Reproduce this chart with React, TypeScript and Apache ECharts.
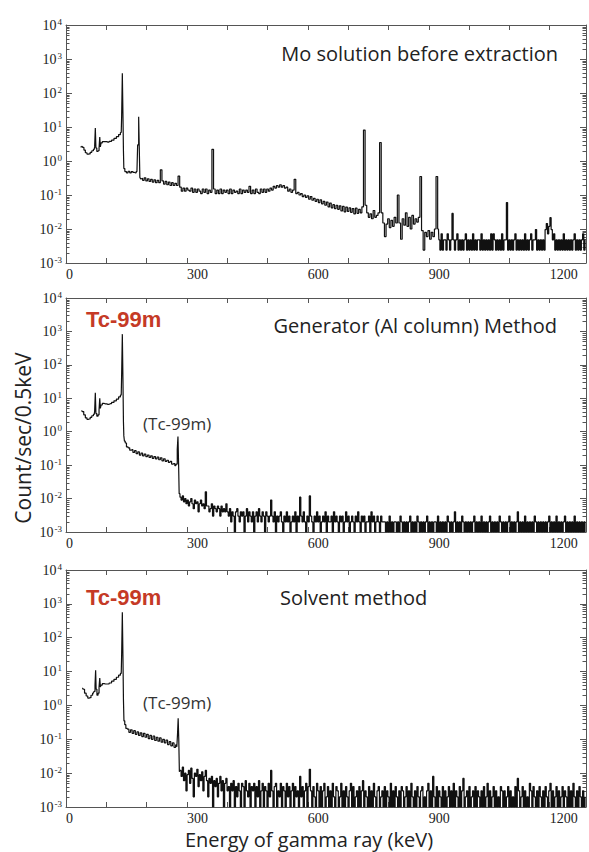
import React, { useEffect, useRef } from 'react';
import * as echarts from 'echarts';

// ---------- axis ticks ----------
const xLabelValues = [0, 300, 600, 900, 1200];
const xMin = 0;
const xMax = 1290;
const xTickStep = 100;
const yMin = 0.001;
const yMax = 10000;
const yMinorMantissas = [2, 3, 4, 5, 6, 7, 8, 9];
const yDecades = [-3, -2, -1, 0, 1, 2, 3];

// ---------- panel titles ----------
const panelTitles = ['Mo solution before extraction', 'Generator (Al column) Method', 'Solvent method'];

// ---------- Panel 1: Mo solution before extraction ----------
const moHead: [number, number][] = [
  [36, 2.6], [40, 2.7], [43, 2.5], [46, 2.1], [50, 1.75], [54, 1.6], [58, 1.62], [62, 1.8], [66, 2.0], [70, 2.2],
  [72, 2.6], [73.5, 9.4], [75, 2.4], [78, 1.9], [81, 2.0], [83, 2.4], [84.5, 5.1], [86, 2.6], [88, 3.4], [92, 3.7],
  [98, 3.7], [104, 3.6], [110, 3.8], [116, 4.1], [122, 4.6], [128, 5.2], [133, 6.0], [137, 6.9], [139, 20], [140.5, 380],
  [142, 25], [143, 2.0], [144, 0.6], [148, 0.49], [152, 0.45], [156, 0.5], [160, 0.45], [164, 0.49], [168, 0.46], [172, 0.45],
  [176, 0.49], [179.5, 3], [181, 20], [182.5, 2.5], [184, 0.33], [186, 0.3],
];
const moMidStart = 188;
const moMidStep = 4;
const moMid = [
  0.31, 0.27, 0.32, 0.26, 0.30, 0.25, 0.29, 0.24, 0.28, 0.23,
  0.27, 0.23, 0.55, 0.26, 0.21, 0.25, 0.20, 0.24, 0.19, 0.23,
  0.19, 0.22, 0.19, 0.36, 0.17, 0.13, 0.16, 0.13, 0.16, 0.14,
  0.13, 0.16, 0.12, 0.15, 0.12, 0.15, 0.13, 0.11, 0.15, 0.12,
  0.15, 0.11, 0.14, 0.12, 2.2, 0.15, 0.11, 0.14, 0.11, 0.15,
  0.11, 0.14, 0.12, 0.14, 0.11, 0.15, 0.11, 0.14, 0.12, 0.13,
  0.11, 0.15, 0.11, 0.14, 0.12, 0.14, 0.12, 0.18, 0.11, 0.14,
  0.11, 0.15, 0.12, 0.11, 0.15, 0.12, 0.15, 0.12, 0.15, 0.13,
  0.16, 0.14, 0.18, 0.16, 0.19, 0.17, 0.20, 0.17, 0.19, 0.16,
  0.17, 0.13, 0.15, 0.12, 0.14, 0.29, 0.11, 0.12, 0.10, 0.11,
  0.09, 0.10, 0.085, 0.095, 0.075, 0.09, 0.07, 0.08, 0.065, 0.075,
  0.06, 0.072, 0.055, 0.065, 0.05, 0.062, 0.045, 0.058, 0.042, 0.052,
  0.04, 0.05, 0.038, 0.048, 0.034, 0.046, 0.032, 0.044, 0.033, 0.042,
  0.031, 0.04, 0.028, 0.041, 0.029, 0.038, 0.03, 0.045, 8.1, 0.05,
  0.03, 0.022, 0.028, 0.02, 0.035, 0.022, 0.025, 0.03, 3.5, 0.03,
  0.015, 0.006, 0.014, 0.02, 0.011, 0.018, 0.012, 0.022, 0.015, 0.1,
  0.015, 0.005, 0.02, 0.013, 0.03, 0.012, 0.022, 0.01, 0.025, 0.014,
  0.02, 0.016, 0.022, 0.35, 0.009, 0.0024, 0.008, 0.006, 0.009, 0.005,
  0.008, 0.006, 0.01, 0.35, 0.01,
];
const moTailStart = 926;
const moTailStep = 3;
const moTailUnit = 0.0024;
const moTailCounts = [
  2, 1, 3, 1, 2, 2, 1, 3, 2, 1,
  2, 12, 2, 1, 2, 3, 1, 2, 1, 2,
  1, 2, 3, 1, 2, 1, 2, 1, 3, 1,
  2, 1, 2, 2, 1, 3, 1, 2, 1, 2,
  1, 2, 1, 3, 1, 3, 2, 1, 2, 1,
  2, 1, 3, 1, 2, 2, 25, 1, 2, 1,
  2, 1, 2, 3, 1, 2, 1, 2, 1, 2,
  1, 3, 1, 2, 1, 2, 3, 1, 2, 2,
  4, 1, 2, 1, 2, 1, 2, 1, 4, 6,
  3, 5, 9, 4, 2, 3, 1, 2, 1, 2,
  1, 2, 1, 3, 1, 2, 1, 2, 1, 2,
  1, 2, 3, 1, 2, 1, 2, 1, 2, 3,
  1, 2,
];

// ---------- Panel 2: Generator (Al column) ----------
const genHead: [number, number][] = [
  [38, 4.2], [42, 4.0], [46, 3.2], [50, 2.6], [54, 2.35], [58, 2.4], [62, 2.7], [66, 3.0], [70, 3.3], [72, 4.0],
  [73.5, 14.6], [75, 3.5], [78, 2.9], [81, 3.2], [83, 4.5], [84.5, 10], [86, 5.0], [88, 6.3], [92, 7.0], [98, 6.8],
  [104, 6.6], [110, 6.9], [116, 7.5], [122, 8.4], [128, 9.5], [133, 11], [137, 12.5], [139, 50], [140.5, 830], [142, 40],
  [143, 2.0], [144, 0.75], [146, 0.52], [148, 0.46], [152, 0.35], [156, 0.33], [160, 0.28], [164, 0.29], [168, 0.24], [172, 0.27],
  [176, 0.22], [180, 0.25], [184, 0.2], [188, 0.23], [192, 0.19], [196, 0.215], [200, 0.18], [204, 0.2], [208, 0.17], [212, 0.19],
  [216, 0.16], [220, 0.18], [224, 0.155], [228, 0.175], [232, 0.145], [236, 0.165], [240, 0.135], [244, 0.155], [248, 0.13], [252, 0.14],
  [256, 0.12], [260, 0.13], [264, 0.108], [268, 0.112], [272, 0.096], [275, 0.108], [277, 0.3], [278.5, 0.72], [280, 0.12], [281.5, 0.014],
];
const genTailStart = 284;
const genTailStep = 3;
const genTailUnit = 0.001;
const genTailCounts = [
  11, 9, 12, 8, 10, 7,
  9, 6, 8, 10, 7, 5, 9, 7, 8, 4, 7, 9, 6,
  7, 5, 16, 6,
  6, 4, 5, 7, 3, 6, 5, 4, 6, 5, 3, 6, 4, 5, 4, 7,
  4, 3, 5, 2, 4, 3, 1, 4, 5, 3, 2, 4, 3, 4, 1, 3, 5, 2, 4, 3, 2, 4, 1, 3, 4, 2, 5, 3, 2, 4, 3, 1, 4, 3, 2, 3,
  9,
  3, 2, 4, 1, 3, 2, 3, 4, 2, 1, 3, 2, 4, 2, 3, 1, 2, 3, 2, 4, 1, 3, 2,
  11,
  3, 2, 4, 2, 1, 3, 2,
  12,
  3, 2, 1, 3, 2, 4, 2, 3, 1, 2,
  3, 2, 4, 1, 3, 2, 2, 3, 1, 4,
  2, 3, 2, 1, 3, 2, 3, 1, 2, 4,
  2, 3, 1, 2, 3, 2, 1, 3, 2, 4,
  2, 1, 3, 2, 3, 1, 2, 2, 3, 1,
  4, 2, 3, 1, 2, 3, 2, 1, 3, 2,
  2,
  2, 1, 2, 1, 3, 1, 2, 1, 2, 2,
  1, 2, 1, 3, 2, 1, 2, 1, 2, 1,
  2, 3, 1, 2, 1, 2, 1, 3, 2, 1,
  2, 1, 2, 1, 2, 3, 1, 2, 1, 2,
  1, 2, 2, 1, 3, 1, 2, 1, 2, 1,
  2, 1, 3, 2, 1, 2, 1, 2, 4, 1,
  2, 1, 2, 1, 3, 2, 1, 2, 1, 2,
  1, 2, 1, 2, 3, 1, 2, 1, 2, 1,
  3, 1, 2, 1, 2, 1, 2, 3, 1, 2,
  1, 2, 1, 2, 1, 3, 2, 1, 2, 1,
  2, 1, 2, 3, 1, 2, 1, 2, 1, 2,
  4, 1, 2, 1, 2, 1, 3, 1, 2, 1,
  2, 1, 2, 1, 3, 2, 1, 2, 1, 2,
  1, 2, 1, 2, 1, 2, 3, 1, 2, 1,
  2, 1, 3, 1, 2, 1, 2, 1, 2, 3,
  1, 2, 1, 2, 1, 2, 1, 3, 1, 2,
  1, 2, 1, 2, 1, 2, 1,
];

// ---------- Panel 3: Solvent method ----------
const solHead: [number, number][] = [
  [40, 3.2], [44, 3.0], [48, 2.3], [52, 1.9], [56, 1.65], [60, 1.7], [64, 2.0], [68, 2.3], [71, 2.6], [73, 4],
  [74, 11], [75.5, 3], [78, 2.0], [81, 2.3], [83, 3.5], [84.5, 6.4], [86, 3.5], [88, 4.0], [92, 4.4], [98, 4.3],
  [104, 4.3], [110, 4.6], [116, 5.2], [122, 5.9], [128, 6.8], [133, 7.8], [137, 8.8], [139, 30], [140.5, 560], [142, 30],
  [143, 1.5], [144.5, 0.35], [147, 0.27], [150, 0.21], [154, 0.2], [158, 0.16], [162, 0.19], [166, 0.15], [170, 0.18], [174, 0.14],
  [178, 0.165], [182, 0.13], [186, 0.155], [190, 0.12], [194, 0.15], [198, 0.115], [202, 0.14], [206, 0.105], [210, 0.13], [214, 0.1],
  [218, 0.125], [222, 0.092], [226, 0.115], [230, 0.088], [234, 0.11], [238, 0.082], [242, 0.1], [246, 0.078], [250, 0.095], [254, 0.07],
  [258, 0.085], [262, 0.064], [266, 0.078], [270, 0.058], [274, 0.068], [276, 0.06], [277.5, 0.15], [279, 0.42], [280.5, 0.1], [282, 0.011],
];
const solTailStart = 284;
const solTailStep = 3;
const solTailUnit = 0.001;
const solTailCounts = [
  12, 8, 15, 6, 10, 3,
  9, 12, 5, 14, 7, 2, 10, 8, 13, 4, 9, 6, 11, 3, 8, 12,
  6, 2, 7, 5, 8, 1, 6, 4, 7, 2, 5, 8, 3, 6, 1, 5, 7, 3,
  4, 1, 5, 3, 6, 1, 4, 2, 5, 3, 1, 5, 4, 1, 6, 3, 2, 5, 1, 4, 3, 5, 1, 4, 2, 6, 1, 3, 5, 1, 4, 3, 1, 5, 2,
  12,
  3, 1, 4, 5, 1, 3, 2, 5, 1, 4, 3, 1, 5, 2, 4, 1, 3, 5, 1, 4, 2, 3, 1, 8, 2, 4, 1, 3, 5, 1, 4,
  13,
  3, 1, 4, 2, 1, 5, 3, 1, 4, 1,
  3, 5, 1, 2, 4, 1, 3, 1, 5, 2,
  1, 4, 3, 1, 2, 5, 1, 3, 1, 4,
  2, 1, 3, 5, 1, 4, 1, 2, 3, 1,
  4, 1, 3, 6, 1, 3, 2, 1, 4, 1,
  3, 1, 5, 2, 1, 3, 4, 1, 2, 3,
  1, 4, 1, 3, 2, 1, 5, 1, 3, 1,
  4, 2, 1, 3, 1, 4, 3, 1, 2, 4,
  1, 3, 1, 5, 2, 1, 3, 1, 4, 2,
  1, 3, 4, 1, 2, 1, 3, 5, 1, 3,
  1, 8, 2, 1, 4, 1, 3, 2, 1, 4,
  1, 3, 1, 2, 4, 1, 3, 1, 5, 1,
  3, 2, 1, 4, 1, 3, 7, 1, 2, 3,
  1, 4, 1, 2, 3, 1, 4, 1, 3, 2,
  1, 3, 1, 4, 1, 2, 5, 1, 3, 1,
  2, 4, 1, 3, 1, 2, 1, 4, 3, 1,
  3, 1, 2, 4, 1, 3, 1, 2, 1, 4,
  1, 7, 3, 1, 2, 4, 1, 3, 1, 2,
  1, 5, 3, 1, 4, 2, 1, 3, 1, 4,
  2, 1, 3, 1, 4, 2, 1, 3, 5, 1,
  3, 1, 2, 4, 1, 3, 1, 2, 4, 1,
  3, 2, 1, 4, 1, 3, 1, 5, 2, 1,
  3, 1, 4, 2, 1, 3, 1, 2,
];

function buildSpectrum(
  head: [number, number][],
  mid: { start: number; step: number; values: number[] } | null,
  tail: { start: number; step: number; unit: number; counts: number[] },
): [number, number][] {
  const out: [number, number][] = head.map((p) => [p[0], p[1]]);
  if (mid) mid.values.forEach((v, i) => out.push([mid.start + i * mid.step, v]));
  tail.counts.forEach((c, i) => out.push([tail.start + i * tail.step, c * tail.unit]));
  return out;
}

const spectra = [
  buildSpectrum(moHead, { start: moMidStart, step: moMidStep, values: moMid },
    { start: moTailStart, step: moTailStep, unit: moTailUnit, counts: moTailCounts }),
  buildSpectrum(genHead, null, { start: genTailStart, step: genTailStep, unit: genTailUnit, counts: genTailCounts }),
  buildSpectrum(solHead, null, { start: solTailStart, step: solTailStep, unit: solTailUnit, counts: solTailCounts }),
];

const yMinorValues: number[] = [];
yDecades.forEach((e) => yMinorMantissas.forEach((m) => yMinorValues.push(Number((m * Math.pow(10, e)).toPrecision(3)))));

const FRAME = '#555555';
const LINE = '#111111';
const SERIF = '"Liberation Serif", "Times New Roman", serif';
const SANS = '"Open Sans", "Noto Sans", sans-serif';
const RED = '#c53a26';

const grids = [
  { left: 66, right: 2, top: 25, height: 238 },
  { left: 66, right: 2, top: 298, height: 234 },
  { left: 66, right: 2, top: 570, height: 237 },
];

export default function App() {
  const ref = useRef<HTMLDivElement>(null);
  useEffect(() => {
    if (!ref.current) return;
    const chart = echarts.init(ref.current, undefined, { renderer: 'svg' });
    const xAxes: any[] = [];
    const yAxes: any[] = [];
    const series: any[] = [];
    grids.forEach((_, g) => {
      ['bottom', 'top'].forEach((pos) => {
        xAxes.push({
          type: 'value', gridIndex: g, position: pos, min: xMin, max: xMax, interval: xTickStep,
          axisLine: { show: true, onZero: false, lineStyle: { color: FRAME, width: 1 } },
          axisTick: { show: true, inside: true, length: 5, lineStyle: { color: FRAME } },
          axisLabel: pos === 'bottom'
            ? {
              show: true, align: 'left', margin: 4, fontFamily: SERIF, fontSize: 14, color: '#222',
              formatter: (v: number) => (xLabelValues.indexOf(v) >= 0 ? String(v) : ''),
            }
            : { show: false },
          splitLine: { show: false },
        });
      });
      ['left', 'right'].forEach((pos) => {
        yAxes.push({
          type: 'log', logBase: 10, gridIndex: g, position: pos, min: yMin, max: yMax, splitNumber: 7,
          axisLine: { show: true, onZero: false, lineStyle: { color: FRAME, width: 1 } },
          axisTick: { show: true, inside: true, length: 6, lineStyle: { color: FRAME } },
          axisLabel: pos === 'left'
            ? {
              show: true, margin: 4,
              formatter: (v: number) => `{b|10}{s|${Math.round(Math.log10(v))}}`,
              rich: {
                b: { fontFamily: SERIF, fontSize: 14, color: '#222', lineHeight: 16 },
                s: { fontFamily: SERIF, fontSize: 9, color: '#222', verticalAlign: 'top', lineHeight: 16, padding: [0, 0, 0, 1] },
              },
            }
            : { show: false },
          splitLine: { show: false },
        });
      });
      series.push({
        type: 'line', xAxisIndex: 2 * g, yAxisIndex: 2 * g, data: spectra[g], step: 'middle',
        showSymbol: false, symbol: 'none', lineStyle: { color: LINE, width: 1.2 }, silent: true,
      });
      series.push({
        type: 'custom', xAxisIndex: 2 * g, yAxisIndex: 2 * g, silent: true, clip: false,
        data: yMinorValues.map((v) => [xMin, v]),
        renderItem: (params: any, api: any) => {
          const p = api.coord([xMin, api.value(1)]);
          const cs = params.coordSys;
          const y = Math.round(p[1]) + 0.5;
          return {
            type: 'group',
            children: [
              { type: 'line', shape: { x1: cs.x, y1: y, x2: cs.x + 3.5, y2: y }, style: { stroke: FRAME, lineWidth: 1 } },
              { type: 'line', shape: { x1: cs.x + cs.width - 3.5, y1: y, x2: cs.x + cs.width, y2: y }, style: { stroke: FRAME, lineWidth: 1 } },
            ],
          };
        },
      });
    });

    const graphic: any[] = [
      { type: 'text', x: 558, y: 53, style: { text: panelTitles[0], fontFamily: SANS, fontSize: 20, fill: '#222', align: 'right', verticalAlign: 'middle' } },
      { type: 'text', x: 557, y: 325, style: { text: panelTitles[1], fontFamily: SANS, fontSize: 20, fill: '#222', align: 'right', verticalAlign: 'middle' } },
      { type: 'text', x: 280, y: 597, style: { text: panelTitles[2], fontFamily: SANS, fontSize: 20, fill: '#222', align: 'left', verticalAlign: 'middle' } },
      { type: 'text', x: 86, y: 319, style: { text: 'Tc-99m', fontFamily: '"Liberation Sans", Arial, sans-serif', fontWeight: 'bold', fontSize: 22, fill: RED, align: 'left', verticalAlign: 'middle' } },
      { type: 'text', x: 86, y: 597, style: { text: 'Tc-99m', fontFamily: '"Liberation Sans", Arial, sans-serif', fontWeight: 'bold', fontSize: 22, fill: RED, align: 'left', verticalAlign: 'middle' } },
      { type: 'text', x: 143, y: 423, style: { text: '(Tc-99m)', fontFamily: SANS, fontSize: 17, fill: '#333', align: 'left', verticalAlign: 'middle' } },
      { type: 'text', x: 143, y: 702, style: { text: '(Tc-99m)', fontFamily: SANS, fontSize: 17, fill: '#333', align: 'left', verticalAlign: 'middle' } },
      { type: 'text', x: 309, y: 839, style: { text: 'Energy of gamma ray (keV)', fontFamily: SANS, fontSize: 20, fill: '#222', align: 'center', verticalAlign: 'middle' } },
      { type: 'text', x: 23, y: 438, rotation: Math.PI / 2, style: { text: 'Count/sec/0.5keV', fontFamily: SANS, fontSize: 21, fill: '#222', align: 'center', verticalAlign: 'middle' } },
    ];

    chart.setOption({
      animation: false,
      backgroundColor: '#ffffff',
      grid: grids,
      xAxis: xAxes,
      yAxis: yAxes,
      series,
      graphic,
    });
    return () => chart.dispose();
  }, []);
  return <div ref={ref} style={{ position: 'absolute', left: 0, top: 0, width: 589, height: 852 }} />;
}
